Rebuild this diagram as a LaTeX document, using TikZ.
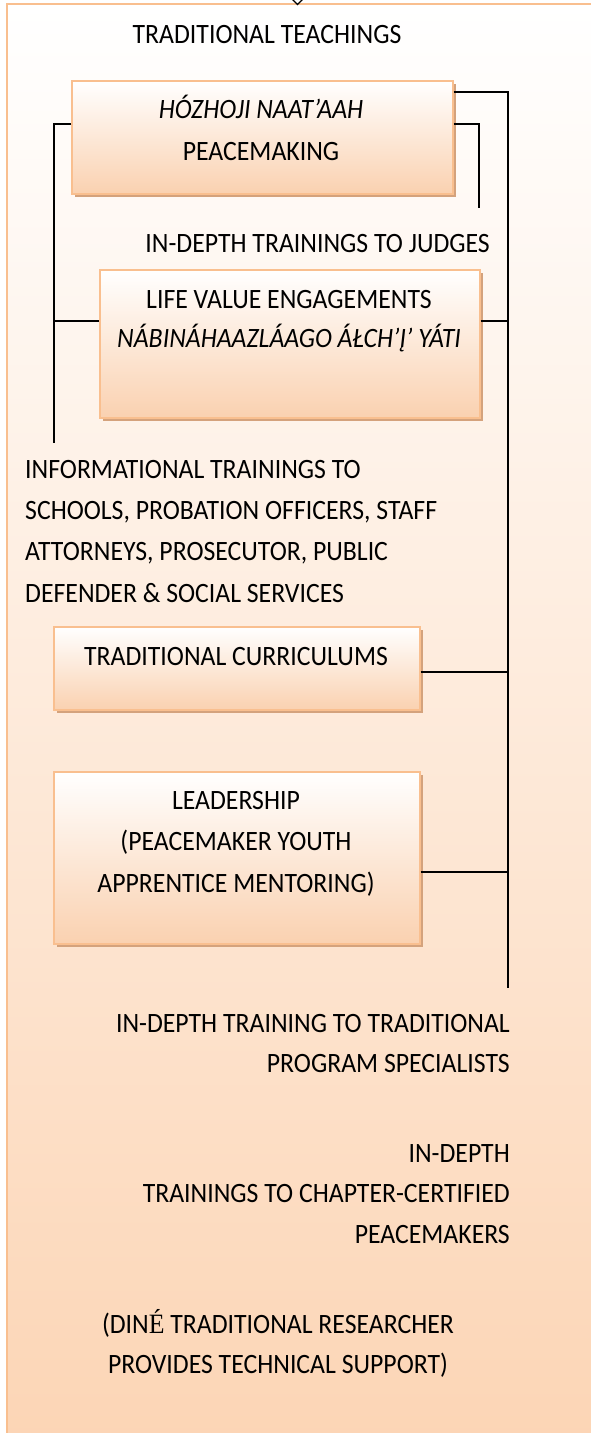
\documentclass[tikz,border=0pt]{standalone}
\usepackage{fontspec}
\setmainfont{Carlito}[FakeStretch=0.92]
\newfontfamily\serifcap{Liberation Serif}[FakeStretch=0.92]
\usetikzlibrary{shadows}
\definecolor{peach}{RGB}{252,213,181}
\definecolor{boxpeach}{RGB}{250,209,176}
\definecolor{edgeorange}{RGB}{249,191,143}
\definecolor{shadowbrown}{RGB}{212,162,124}
\begin{document}
\begin{tikzpicture}[x=1pt,y=-1pt,
  panel/.style={draw=edgeorange,line width=1.6pt,top color=white,bottom color=boxpeach,
    rectangle,inner sep=0pt,anchor=north west,
    drop shadow={shadow xshift=3pt,shadow yshift=-3pt,fill=shadowbrown,opacity=1}},
  txt/.style={inner sep=0pt,font=\fontsize{28}{34}\selectfont},
  link/.style={draw=black,line width=1.4pt}]
\useasboundingbox (0,0) rectangle (590,1433);
% outer frame, running off the right and bottom edges
\draw[draw=edgeorange,line width=2pt,top color=white,bottom color=peach]
  (7,4) rectangle (602,1445);
% small pointer above the frame
\draw[line width=1.2pt] (292,-1) -- (297.5,4.5) -- (303,-1);

\node[txt,anchor=base] (tt) at (267,43) {TRADITIONAL TEACHINGS};

% boxes
\node[panel,minimum width=381pt,minimum height=113pt] (b1) at (71,80) {};
\node[panel,minimum width=380pt,minimum height=148pt] (b2) at (99,269) {};
\node[panel,minimum width=366pt,minimum height=83pt] (b3) at (53,626) {};
\node[panel,minimum width=366pt,minimum height=172pt] (b4) at (53,771) {};

% box texts
\node[txt,anchor=base] (b1a) at (261,118) {\itshape HÓZHOJI NAAT’AAH};
\node[txt,anchor=base] (b1b) at (261,160) {PEACEMAKING};
\node[txt,anchor=base] (b2a) at (289,308) {LIFE VALUE ENGAGEMENTS};
\node[txt,anchor=base] (b2b) at (289,347) {\itshape NÁBINÁHAAZLÁAGO ÁŁCH’Į’ YÁTI};
\node[txt,anchor=base] (b3a) at (236,665) {TRADITIONAL CURRICULUMS};
\node[txt,anchor=base] (b4a) at (236,809) {LEADERSHIP};
\node[txt,anchor=base] (b4b) at (236,850) {(PEACEMAKER YOUTH};
\node[txt,anchor=base] (b4c) at (236,892) {APPRENTICE MENTORING)};

% free labels
\node[txt,anchor=base east] (judges) at (490,252) {IN-DEPTH TRAININGS TO JUDGES};
\node[txt,anchor=base west] (inf1) at (25,478) {INFORMATIONAL TRAININGS TO};
\node[txt,anchor=base west] (inf2) at (25,519) {SCHOOLS, PROBATION OFFICERS, STAFF};
\node[txt,anchor=base west] (inf3) at (25,560) {ATTORNEYS, PROSECUTOR, PUBLIC};
\node[txt,anchor=base west] (inf4) at (25,602) {DEFENDER \& SOCIAL SERVICES};
\node[txt,anchor=base east] (ps1) at (510,1032) {IN-DEPTH TRAINING TO TRADITIONAL};
\node[txt,anchor=base east] (ps2) at (510,1072) {PROGRAM SPECIALISTS};
\node[txt,anchor=base east] (cp1) at (510,1162) {IN-DEPTH};
\node[txt,anchor=base east] (cp2) at (510,1202) {TRAININGS TO CHAPTER-CERTIFIED};
\node[txt,anchor=base east] (cp3) at (510,1243) {PEACEMAKERS};
\node[txt,anchor=base] (dr1) at (278,1333) {(DIN{\serifcap É} TRADITIONAL RESEARCHER};
\node[txt,anchor=base] (dr2) at (278,1373) {PROVIDES TECHNICAL SUPPORT)};

% rails
\coordinate (rtop) at (508,92);
\coordinate (rbot) at (508,988);
\coordinate (mtop) at (479,124);
\coordinate (mbot) at (479,208);
\coordinate (ltop) at (54,124);
\coordinate (lbot) at (54,443);

% attachment points on the boxes
\coordinate (b1r1) at ([yshift=-12pt]b1.north east);
\coordinate (b1r2) at ([yshift=-44pt]b1.north east);
\coordinate (b1l)  at ([yshift=-44pt]b1.north west);
\coordinate (b2l)  at ([yshift=-52pt]b2.north west);
\coordinate (b2r)  at ([yshift=-52pt]b2.north east);
\coordinate (b3r)  at ([yshift=-46pt]b3.north east);
\coordinate (b4r)  at ([yshift=-101pt]b4.north east);

% connectors
\draw[link] (b1r1) -- (rtop) -- (rbot);
\draw[link] (b1r2) -- (mtop) -- (mbot);
\draw[link] (b1l) -- (ltop) -- (lbot);
\draw[link] (b2l) -- (ltop |- b2l);
\draw[link] (b2r) -- (rtop |- b2r);
\draw[link] (b3r) -- (rtop |- b3r);
\draw[link] (b4r) -- (rtop |- b4r);
\end{tikzpicture}
\end{document}
